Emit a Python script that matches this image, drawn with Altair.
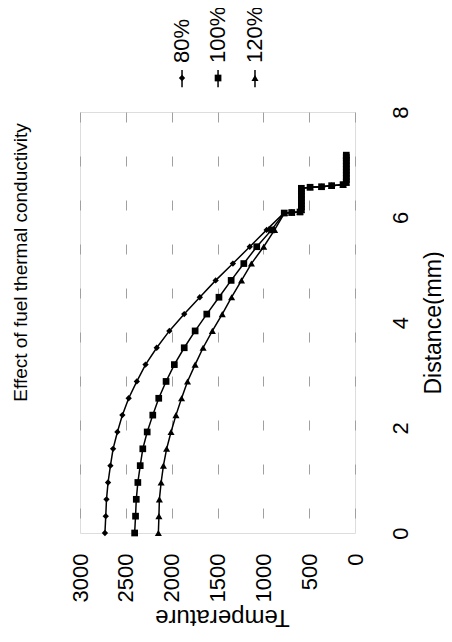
import altair as alt
import pandas as pd

series_names = ["80%", "100%", "120%"]

# fuel region distances (mm)
dist_fuel = [0.00, 0.32, 0.64, 0.96, 1.28, 1.60, 1.92, 2.24, 2.56, 2.88,
             3.20, 3.52, 3.84, 4.16, 4.48, 4.80, 5.12, 5.44, 5.76, 6.08]
temp_80 = [2728, 2719, 2711, 2694, 2668, 2639, 2592, 2538, 2469, 2380,
           2285, 2163, 2025, 1863, 1693, 1520, 1332, 1148, 964, 775]
temp_100 = [2404, 2394, 2386, 2369, 2343, 2315, 2267, 2206, 2141, 2061,
            1971, 1863, 1744, 1617, 1484, 1351, 1213, 1072, 910, 772]
temp_120 = [2145, 2139, 2134, 2115, 2090, 2055, 2007, 1953, 1892, 1827,
            1744, 1657, 1556, 1448, 1346, 1238, 1130, 996, 877, 770]

# gap and cladding region (same for all cases)
dist_tail = [6.09, 6.10, 6.14, 6.20, 6.26, 6.32, 6.38, 6.44, 6.50, 6.55,
             6.57, 6.58, 6.60, 6.62, 6.66, 6.72, 6.78, 6.84, 6.90, 6.96,
             7.02, 7.08, 7.14, 7.18]
temp_tail = [690, 600, 585, 585, 585, 585, 585, 585, 585, 585,
             490, 365, 255, 130, 95, 95, 95, 95, 95, 95,
             95, 95, 95, 95]

temps = {"80%": temp_80, "100%": temp_100, "120%": temp_120}

rows = []
for s in series_names:
    ds = dist_fuel + dist_tail
    ts = temps[s] + temp_tail
    for k, (d, t) in enumerate(zip(ds, ts)):
        rows.append({"series": s, "i": k, "d": d, "T": t})
df = pd.DataFrame(rows)

# legend entries (placed above the plot, in data units)
legend_T = [1887, 1494, 1091]
legend_d = [8.646, 8.646, 8.646]
legend_lo = [8.47, 8.47, 8.47]
legend_hi = [8.80, 8.80, 8.80]
legend_text_d = [8.93, 8.93, 8.93]
leg = pd.DataFrame({"series": series_names, "T": legend_T, "d": legend_d,
                    "lo": legend_lo, "hi": legend_hi, "td": legend_text_d})

FONT = "Liberation Sans"

x_enc = alt.X("T:Q",
              scale=alt.Scale(domain=[0, 3000], reverse=True, nice=False, zero=False),
              axis=alt.Axis(title="Temperature", values=[0, 500, 1000, 1500, 2000, 2500, 3000],
                            format="d",
                            orient="bottom", domain=False, ticks=False, tickSize=0,
                            labelAngle=270, labelAlign="right", labelBaseline="middle",
                            labelPadding=20, labelFontSize=22, labelColor="black",
                            titleAngle=180, titleFontSize=24, titleFontWeight="normal",
                            titleBaseline="middle", titleY=83, titleX=142,
                            titleColor="black",
                            grid=True, gridDash=[10, 34], gridColor="#a0a0a0",
                            gridWidth=1, labelFont=FONT, titleFont=FONT))
y_enc = alt.Y("d:Q",
              scale=alt.Scale(domain=[0, 8], nice=False, zero=False),
              axis=alt.Axis(title="Distance(mm)", values=[0, 2, 4, 6, 8], orient="right",
                            format="d",
                            domain=False, ticks=False, tickSize=0, grid=False,
                            labelAngle=270, labelAlign="center", labelBaseline="middle",
                            labelPadding=45, labelFontSize=22, labelColor="black",
                            titleAngle=270, titleFontSize=23, titleFontWeight="normal",
                            titleBaseline="middle", titleX=78, titleColor="black",
                            labelFont=FONT, titleFont=FONT))

shape_scale = alt.Scale(domain=series_names, range=["diamond", "square", "triangle-up"])
size_scale = alt.Scale(domain=series_names, range=[40, 50, 38])

lines = alt.Chart(df).mark_line(color="black", strokeWidth=1.5).encode(
    x=x_enc, y=y_enc, detail="series:N", order="i:Q")

points = alt.Chart(df).mark_point(filled=True, color="black", opacity=1).encode(
    x="T:Q", y="d:Q",
    shape=alt.Shape("series:N", scale=shape_scale, legend=None),
    size=alt.Size("series:N", scale=size_scale, legend=None))

leg_rule = alt.Chart(leg).mark_rule(color="black", strokeWidth=1.5).encode(
    x="T:Q", y="lo:Q", y2="hi:Q")
leg_pts = alt.Chart(leg).mark_point(filled=True, color="black", opacity=1).encode(
    x="T:Q", y="d:Q",
    shape=alt.Shape("series:N", scale=shape_scale, legend=None),
    size=alt.Size("series:N", scale=size_scale, legend=None))
leg_txt = alt.Chart(leg).mark_text(angle=270, align="left", baseline="middle",
                                   fontSize=22, font=FONT, color="black").encode(
    x="T:Q", y="td:Q", text="series:N")

chart = alt.layer(lines, points, leg_rule, leg_pts, leg_txt).properties(
    width=275, height=421,
    autosize=alt.AutoSizeParams(type="none"),
    padding={"left": 72, "top": 104, "right": 89, "bottom": 101},
    title=alt.TitleParams("Effect of fuel thermal conductivity", orient="left",
                          anchor="middle", offset=38, fontSize=19, font=FONT,
                          fontWeight="normal", color="black", dx=60),
).configure_view(stroke="black", strokeWidth=1.5).configure(background="white")

chart.save("out.html", embed_options={"renderer": "svg", "actions": False})
